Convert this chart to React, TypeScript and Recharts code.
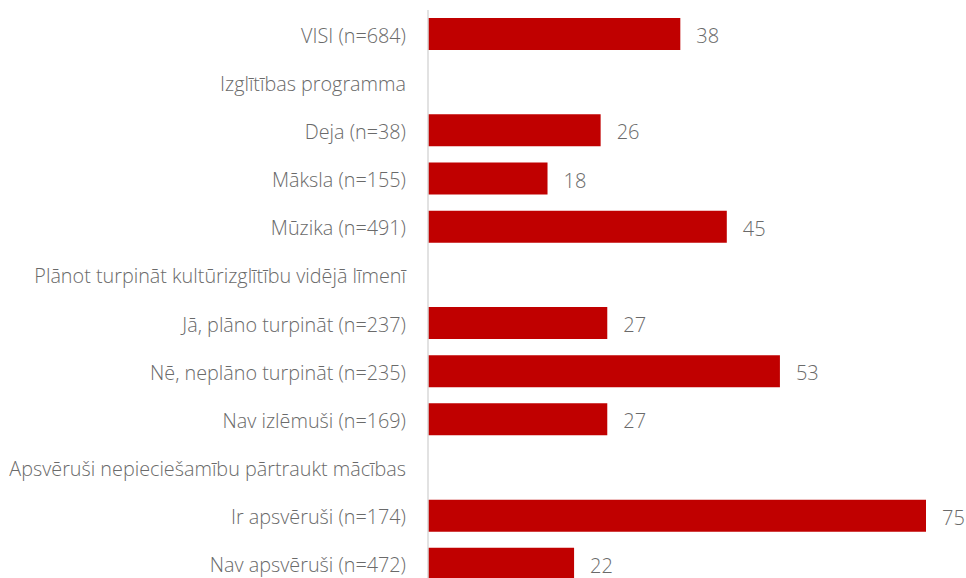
import React from 'react';
import { BarChart, Bar, XAxis, YAxis, LabelList } from 'recharts';

const categories: string[] = [
  'VISI (n=684)',
  'Izglītības programma',
  'Deja (n=38)',
  'Māksla (n=155)',
  'Mūzika (n=491)',
  'Plānot turpināt kultūrizglītību vidējā līmenī',
  'Jā, plāno turpināt (n=237)',
  'Nē, neplāno turpināt (n=235)',
  'Nav izlēmuši (n=169)',
  'Apsvēruši nepieciešamību pārtraukt mācības',
  'Ir apsvēruši (n=174)',
  'Nav apsvēruši (n=472)',
];

const values: (number | null)[] = [38, null, 26, 18, 45, null, 27, 53, 27, null, 75, 22];

const data = categories.map((name, i) => ({ name, value: values[i] }));

const FONT = '"Open Sans", "Noto Sans", sans-serif';
const GRAY = '#6a6a6a';

export default function App() {
  return (
    <div style={{ position: 'absolute', left: 0, top: 0 }}>
      <BarChart
        width={966}
        height={588}
        data={data}
        layout="vertical"
        margin={{ top: 10, right: 40, bottom: 0, left: 0 }}
      >
        <XAxis type="number" domain={[0, 75]} hide />
        <YAxis
          type="category"
          dataKey="name"
          width={428}
          interval={0}
          tickLine={false}
          tickSize={0}
          tickMargin={22}
          axisLine={{ stroke: '#d9d9d9', strokeWidth: 1.5 }}
          tick={{ fill: GRAY, fontSize: 19.8, fontFamily: FONT, fontWeight: 300, dy: 1.5 }}
        />
        <Bar dataKey="value" fill="#C00000" barSize={32} isAnimationActive={false}>
          <LabelList
            dataKey="value"
            position="right"
            offset={16}
            formatter={(v: any) => (v == null ? '' : v)}
            style={{ fill: GRAY, fontSize: 20, fontFamily: FONT, fontWeight: 300, transform: 'translateY(2px)' }}
          />
        </Bar>
      </BarChart>
    </div>
  );
}
